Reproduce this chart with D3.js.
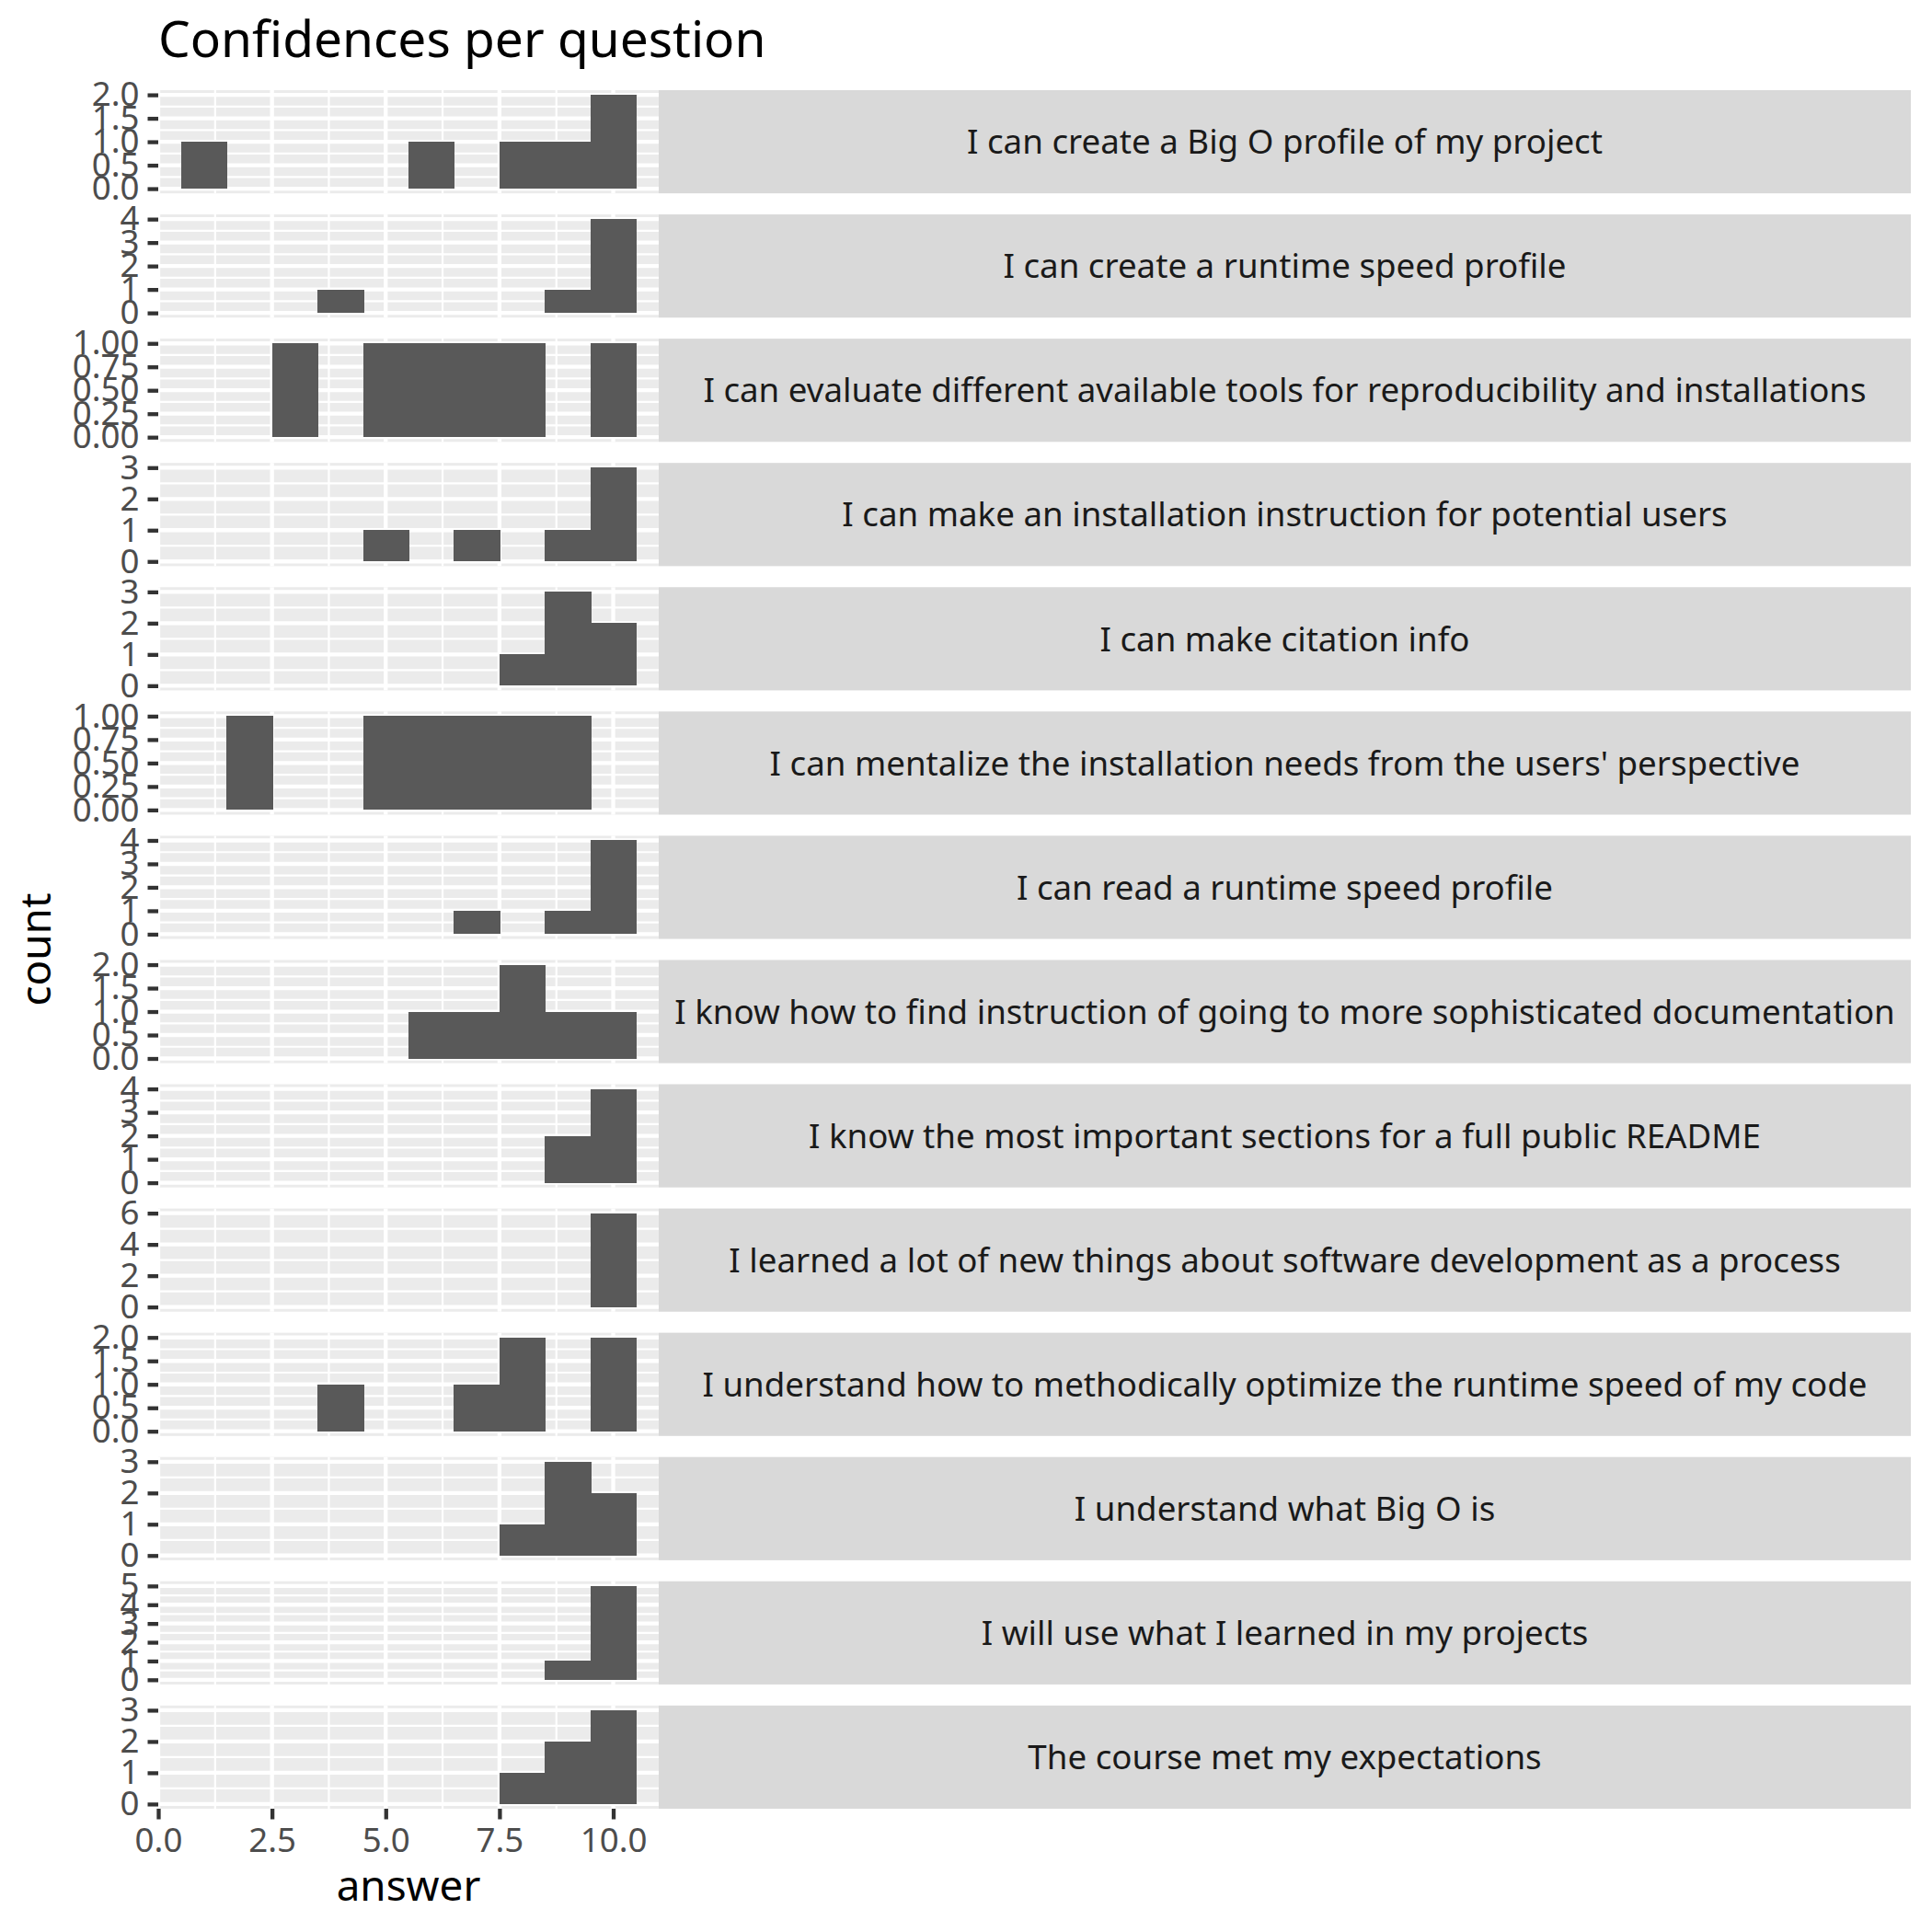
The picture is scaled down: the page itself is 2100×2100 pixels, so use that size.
<!DOCTYPE html>
<html>
<head>
<meta charset="utf-8">
<script src="https://cdn.jsdelivr.net/npm/d3@7"></script>
<style>
body { margin: 0; background: #fff; }
svg text { font-family: "Noto Sans", "DejaVu Sans", sans-serif; }
</style>
</head>
<body>
<div id="chart"></div>
<script>
// answers on the 1..10 scale, one bin each
var answers = [1, 2, 3, 4, 5, 6, 7, 8, 9, 10];

var questions = [
	"I can create a Big O profile of my project",
	"I can create a runtime speed profile",
	"I can evaluate different available tools for reproducibility and installations",
	"I can make an installation instruction for potential users",
	"I can make citation info",
	"I can mentalize the installation needs from the users' perspective",
	"I can read a runtime speed profile",
	"I know how to find instruction of going to more sophisticated documentation",
	"I know the most important sections for a full public README",
	"I learned a lot of new things about software development as a process",
	"I understand how to methodically optimize the runtime speed of my code",
	"I understand what Big O is",
	"I will use what I learned in my projects",
	"The course met my expectations"
];

// counts per answer (1..10) for each question, same order as above
var counts = [
	[1, 0, 0, 0, 0, 1, 0, 1, 1, 2],
	[0, 0, 0, 1, 0, 0, 0, 0, 1, 4],
	[0, 0, 1, 0, 1, 1, 1, 1, 0, 1],
	[0, 0, 0, 0, 1, 0, 1, 0, 1, 3],
	[0, 0, 0, 0, 0, 0, 0, 1, 3, 2],
	[0, 1, 0, 0, 1, 1, 1, 1, 1, 0],
	[0, 0, 0, 0, 0, 0, 1, 0, 1, 4],
	[0, 0, 0, 0, 0, 1, 1, 2, 1, 1],
	[0, 0, 0, 0, 0, 0, 0, 0, 2, 4],
	[0, 0, 0, 0, 0, 0, 0, 0, 0, 6],
	[0, 0, 0, 1, 0, 0, 1, 2, 0, 2],
	[0, 0, 0, 0, 0, 0, 0, 1, 3, 2],
	[0, 0, 0, 0, 0, 0, 0, 0, 1, 5],
	[0, 0, 0, 0, 0, 0, 0, 1, 2, 3]
];

// x axis ticks
var xTicks = [0, 2.5, 5, 7.5, 10];
var xTickLabels = ["0.0", "2.5", "5.0", "7.5", "10.0"];
var xMinor = [1.25, 3.75, 6.25, 8.75];

// y break step depending on the panel maximum (as ggplot picked them)
var yStepByMax = {1: 0.25, 2: 0.5, 3: 1, 4: 1, 5: 1, 6: 2};

var svgWidth = 2100, svgHeight = 2100;

var panelLeft = 172, panelRight = 716,
	stripRight = 2077,
	panelTop = 98, panelBottom = 1966,
	gap = 22.9;

var nPanels = questions.length;
var panelH = (panelBottom - panelTop - gap * (nPanels - 1)) / nPanels;

var tickLen = 11.5;
var tickSize = "36.7px";

var svg = d3.select("#chart").append("svg")
	.attr("width", svgWidth)
	.attr("height", svgHeight);

svg.append("rect")
	.attr("width", svgWidth)
	.attr("height", svgHeight)
	.attr("fill", "#ffffff");

var xScale = d3.scaleLinear()
	.domain([0, 11])
	.range([panelLeft, panelRight]);

function fmtFor(step) {
	if (step === 0.25) return d3.format(".2f");
	if (step === 0.5) return d3.format(".1f");
	return d3.format("d");
}

questions.forEach(function(q, i) {
	var top = panelTop + i * (panelH + gap);
	var cts = counts[i];
	var ymax = d3.max(cts);
	var step = yStepByMax[ymax];

	var yScale = d3.scaleLinear()
		.domain([-0.05 * ymax, 1.05 * ymax])
		.range([top + panelH, top]);

	var yTicks = d3.range(0, ymax + step / 2, step);
	var yMinor = [];
	for (var k = 0; k < yTicks.length - 1; k++) {
		yMinor.push(yTicks[k] + step / 2);
	}

	var g = svg.append("g").attr("class", "panel");

	// background
	g.append("rect")
		.attr("x", panelLeft)
		.attr("y", top)
		.attr("width", panelRight - panelLeft)
		.attr("height", panelH)
		.attr("fill", "#EBEBEB");

	// minor grid
	g.selectAll(".ymin").data(yMinor).enter().append("line")
		.attr("x1", panelLeft).attr("x2", panelRight)
		.attr("y1", function(d) { return yScale(d); })
		.attr("y2", function(d) { return yScale(d); })
		.attr("stroke", "#fff").attr("stroke-width", 2.2);
	g.selectAll(".xmin").data(xMinor).enter().append("line")
		.attr("y1", top).attr("y2", top + panelH)
		.attr("x1", function(d) { return xScale(d); })
		.attr("x2", function(d) { return xScale(d); })
		.attr("stroke", "#fff").attr("stroke-width", 2.2);

	// major grid
	g.selectAll(".ymaj").data(yTicks).enter().append("line")
		.attr("x1", panelLeft).attr("x2", panelRight)
		.attr("y1", function(d) { return yScale(d); })
		.attr("y2", function(d) { return yScale(d); })
		.attr("stroke", "#fff").attr("stroke-width", 4.3);
	g.selectAll(".xmaj").data(xTicks).enter().append("line")
		.attr("y1", top).attr("y2", top + panelH)
		.attr("x1", function(d) { return xScale(d); })
		.attr("x2", function(d) { return xScale(d); })
		.attr("stroke", "#fff").attr("stroke-width", 4.3);

	// bars (no outline, neighbours overlap a pixel so they merge)
	var bars = answers.map(function(a, j) { return {answer: a, count: cts[j]}; })
		.filter(function(d) { return d.count > 0; });

	g.selectAll(".bar").data(bars).enter().append("rect")
		.attr("x", function(d) { return xScale(d.answer - 0.5); })
		.attr("width", function(d) { return xScale(d.answer + 0.5) - xScale(d.answer - 0.5) + 1; })
		.attr("y", function(d) { return yScale(d.count); })
		.attr("height", function(d) { return yScale(0) - yScale(d.count); })
		.attr("fill", "#595959")
		.attr("shape-rendering", "crispEdges");

	// y axis
	var yax = g.append("g")
		.attr("transform", "translate(" + panelLeft + ",0)")
		.call(d3.axisLeft(yScale).tickValues(yTicks).tickFormat(fmtFor(step))
			.tickSize(tickLen).tickPadding(9));
	yax.select(".domain").remove();
	yax.selectAll(".tick line").attr("stroke", "#333333").attr("stroke-width", 4.3);
	yax.selectAll(".tick text")
		.attr("fill", "#4D4D4D")
		.style("font-size", tickSize)
		.style("font-family", "'Noto Sans', sans-serif");

	// strip on the right
	g.append("rect")
		.attr("x", panelRight)
		.attr("y", top)
		.attr("width", stripRight - panelRight)
		.attr("height", panelH)
		.attr("fill", "#D9D9D9");
	g.append("text")
		.attr("x", (panelRight + stripRight) / 2)
		.attr("y", top + panelH / 2)
		.attr("dy", "0.36em")
		.attr("text-anchor", "middle")
		.attr("fill", "#1A1A1A")
		.style("font-size", "36.7px")
		.text(q);
});

// bottom x axis
var xax = svg.append("g")
	.attr("transform", "translate(0," + panelBottom + ")")
	.call(d3.axisBottom(xScale).tickValues(xTicks)
		.tickFormat(function(d, i) { return xTickLabels[i]; })
		.tickSize(tickLen).tickPadding(9));
xax.select(".domain").remove();
xax.selectAll(".tick line").attr("stroke", "#333333").attr("stroke-width", 4.3);
xax.selectAll(".tick text")
	.attr("fill", "#4D4D4D")
	.style("font-size", tickSize)
	.style("font-family", "'Noto Sans', sans-serif");

// axis titles
svg.append("text")
	.attr("x", (panelLeft + panelRight) / 2)
	.attr("y", 2066)
	.attr("text-anchor", "middle")
	.attr("fill", "#000")
	.style("font-size", "45.8px")
	.text("answer");

svg.append("text")
	.attr("transform", "translate(55," + (panelTop + panelBottom) / 2 + ") rotate(-90)")
	.attr("text-anchor", "middle")
	.attr("fill", "#000")
	.style("font-size", "45.8px")
	.text("count");

// title
svg.append("text")
	.attr("x", panelLeft)
	.attr("y", 62)
	.attr("fill", "#000")
	.style("font-size", "55px")
	.text("Confidences per question");
</script>
</body>
</html>
